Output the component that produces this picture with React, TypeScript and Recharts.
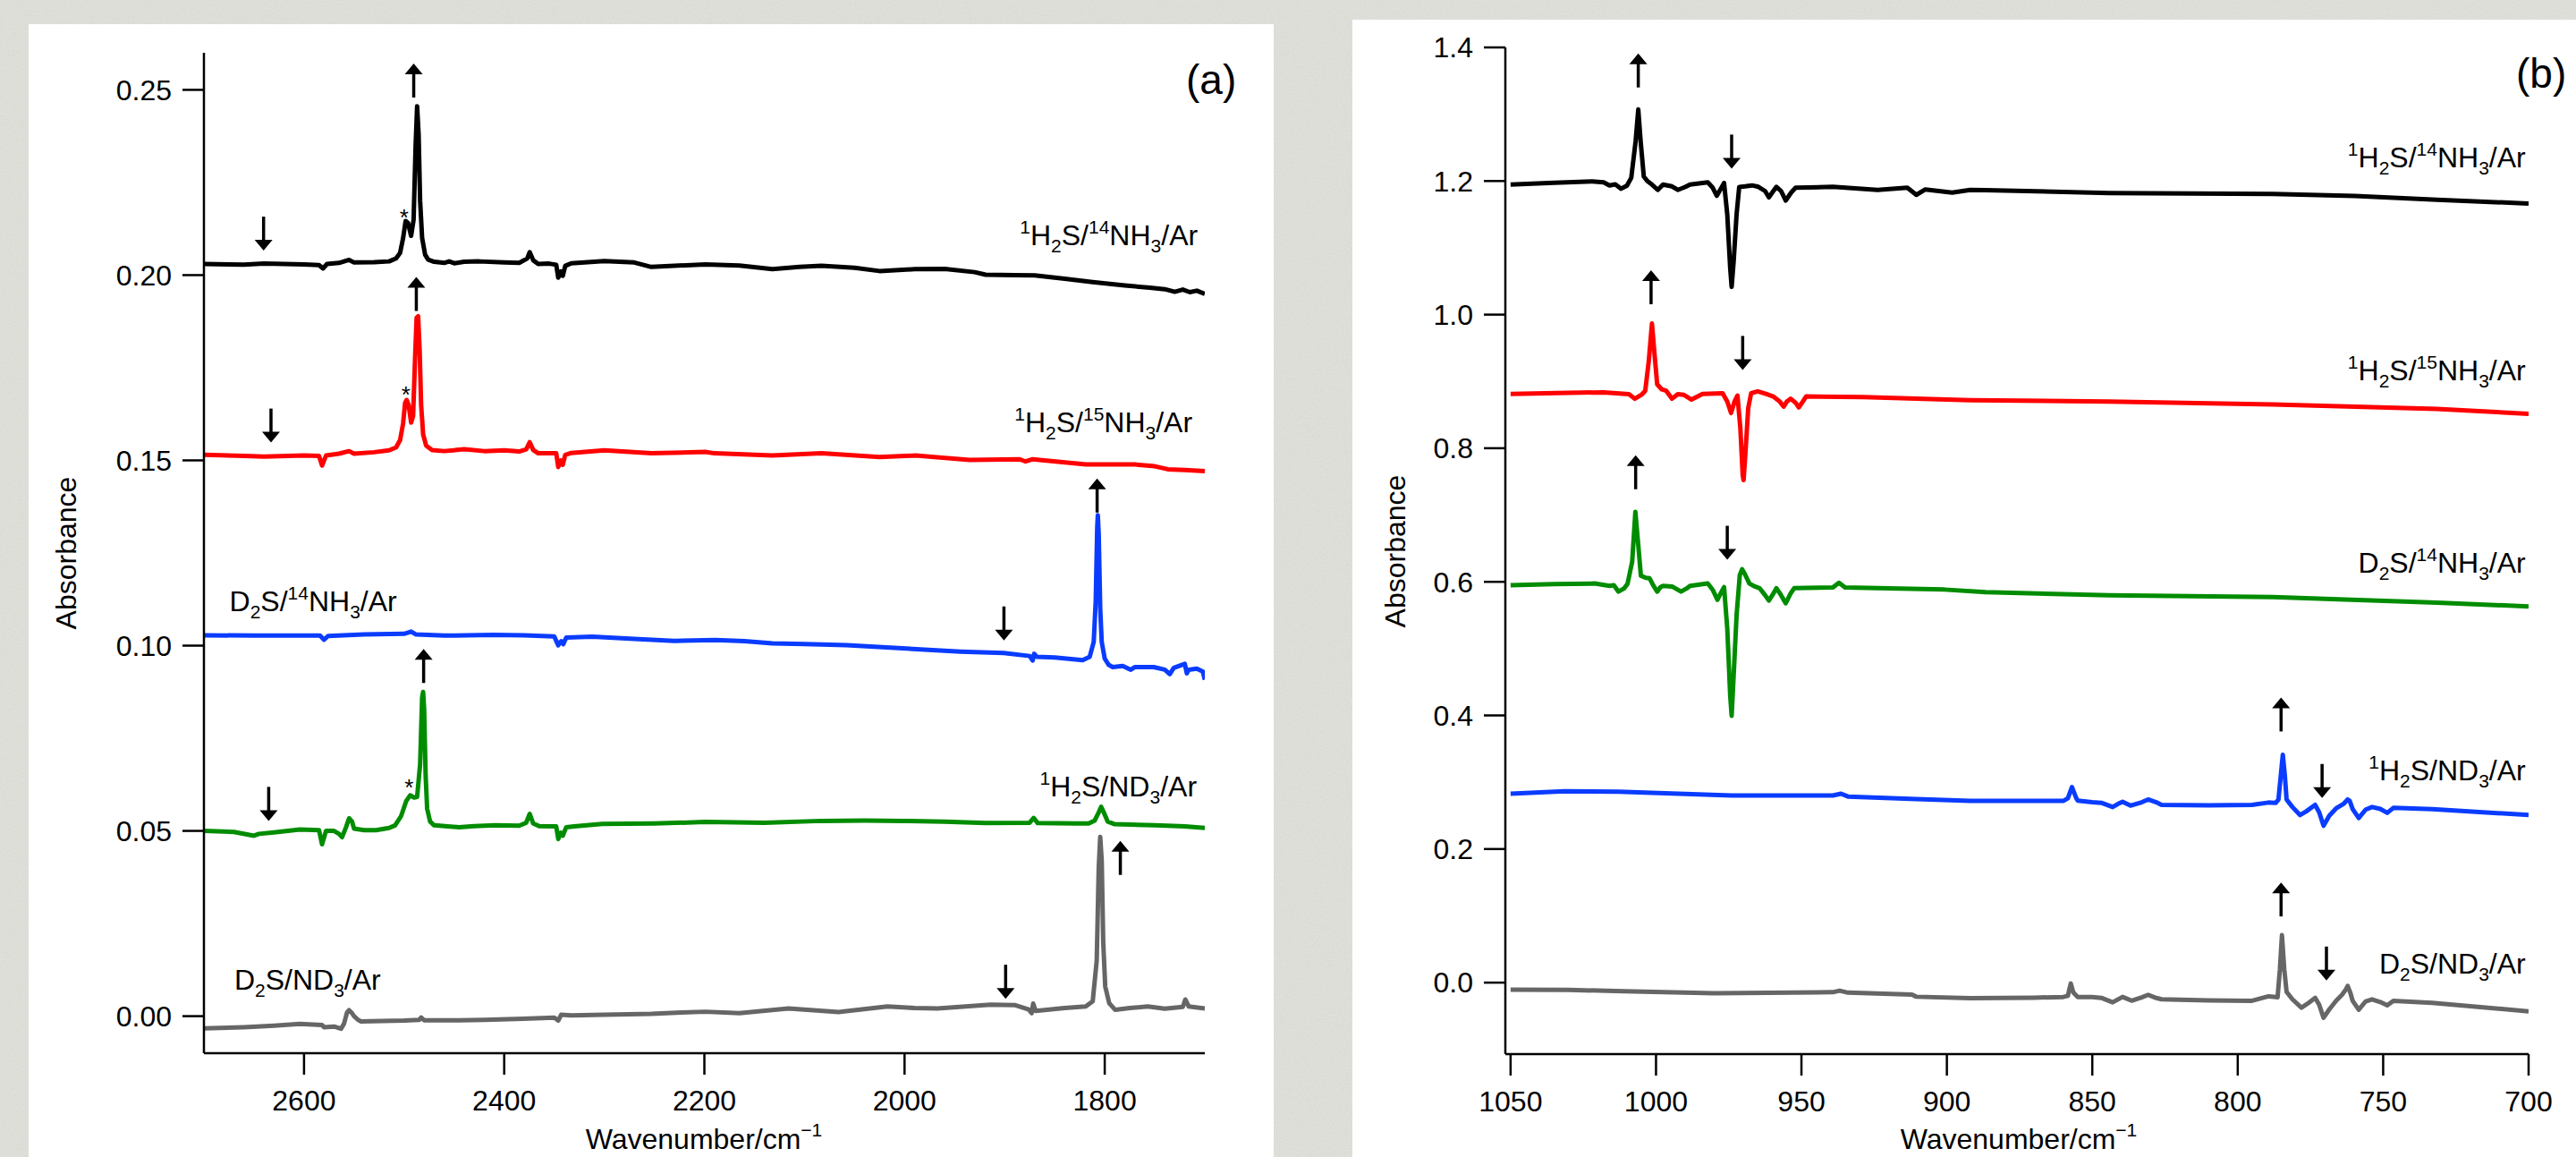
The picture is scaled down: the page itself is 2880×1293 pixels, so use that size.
import React from "react";
import { LineChart, Line, XAxis, YAxis, ReferenceDot } from "recharts";

const FONT = '"Liberation Sans", Arial, Helvetica, sans-serif';

// ---- panel (a): 1700-2700 cm-1 region ----
const aXTicks = [2600, 2400, 2200, 2000, 1800];
const aYTicks = [0, 0.05, 0.1, 0.15, 0.2, 0.25];

const aH2S14NH3: [number, number][] = [
  [2700, 0.203], [2660, 0.2028], [2640, 0.2031], [2600, 0.2029], [2585, 0.2027], [2581, 0.2018],
  [2577, 0.203], [2565, 0.2033], [2555, 0.2041], [2550, 0.2034], [2530, 0.2035], [2515, 0.2037],
  [2508, 0.2045], [2504, 0.206], [2501, 0.21], [2498.5, 0.2146], [2496, 0.214], [2493, 0.2106],
  [2490.5, 0.215], [2488.5, 0.235], [2487, 0.2456], [2485.5, 0.238], [2484, 0.22], [2482, 0.21],
  [2479, 0.2055], [2476, 0.2042], [2470, 0.2036], [2460, 0.2033], [2455, 0.2037], [2450, 0.2032],
  [2440, 0.2036], [2425, 0.2037], [2400, 0.2034], [2385, 0.2033], [2377, 0.2045], [2374.5, 0.2062],
  [2371, 0.204], [2366, 0.203], [2355, 0.2031], [2348, 0.2028], [2346, 0.1993], [2343.5, 0.201],
  [2341.5, 0.1998], [2339, 0.2025], [2333, 0.2032], [2300, 0.2038], [2270, 0.2034], [2253, 0.2022],
  [2230, 0.2025], [2199, 0.2029], [2165, 0.2026], [2132, 0.2016], [2105, 0.2022], [2083, 0.2025],
  [2050, 0.202], [2025, 0.2011], [1990, 0.2016], [1960, 0.2017], [1930, 0.2008], [1919, 0.2001],
  [1890, 0.2], [1870, 0.1999], [1840, 0.199], [1812, 0.1981], [1780, 0.1972], [1755, 0.1966],
  [1740, 0.1962], [1730, 0.1955], [1722, 0.1961], [1715, 0.1954], [1708, 0.1958], [1700, 0.1949],
];

const aH2S15NH3: [number, number][] = [
  [2700, 0.1515], [2660, 0.1512], [2640, 0.151], [2600, 0.1513], [2585, 0.1512], [2582, 0.1486],
  [2578, 0.1513], [2565, 0.1518], [2555, 0.1525], [2550, 0.1518], [2530, 0.1522], [2515, 0.1527],
  [2508, 0.1535], [2504, 0.1555], [2501, 0.16], [2499, 0.1655], [2497.5, 0.1663], [2495.5, 0.165],
  [2493, 0.1602], [2491, 0.162], [2489, 0.178], [2487.5, 0.1885], [2486, 0.1889], [2484.5, 0.18],
  [2483, 0.165], [2481, 0.157], [2478, 0.154], [2472, 0.1528], [2460, 0.1525], [2440, 0.153],
  [2420, 0.1525], [2400, 0.1527], [2385, 0.1524], [2378, 0.153], [2374.5, 0.1549], [2371, 0.1528],
  [2366, 0.1519], [2348, 0.1519], [2346, 0.1482], [2343.5, 0.15], [2341.5, 0.1488], [2339, 0.1515],
  [2333, 0.152], [2300, 0.1527], [2253, 0.1519], [2199, 0.1523], [2190, 0.1519], [2132, 0.1513],
  [2083, 0.1519], [2025, 0.1509], [1989, 0.1513], [1935, 0.1501], [1885, 0.1503], [1879, 0.1497],
  [1872, 0.1503], [1819, 0.1489], [1770, 0.1489], [1750, 0.1484], [1737, 0.1476], [1720, 0.1474],
  [1700, 0.1471],
];

const aD2S14NH3: [number, number][] = [
  [2700, 0.1028], [2650, 0.1027], [2600, 0.1027], [2584, 0.1027], [2580, 0.1016], [2576, 0.1026],
  [2540, 0.103], [2500, 0.1032], [2493, 0.1038], [2488, 0.103], [2460, 0.1027], [2411, 0.1029],
  [2380, 0.1028], [2350, 0.1025], [2346, 0.1001], [2343, 0.1012], [2341, 0.1004], [2338, 0.1022],
  [2312, 0.1024], [2270, 0.1018], [2230, 0.1013], [2189, 0.1015], [2160, 0.1012], [2132, 0.1006],
  [2100, 0.1004], [2058, 0.1001], [2010, 0.0994], [1944, 0.0984], [1901, 0.098], [1875, 0.0972],
  [1872, 0.096], [1870.5, 0.0978], [1868, 0.097], [1850, 0.0968], [1822, 0.0961], [1815, 0.097],
  [1811, 0.101], [1809, 0.112], [1807.5, 0.132], [1806.9, 0.1352], [1806, 0.13], [1804.5, 0.11],
  [1803, 0.101], [1800, 0.0965], [1796, 0.0948], [1792, 0.0942], [1782, 0.0945], [1774, 0.0935],
  [1770, 0.0942], [1751, 0.0942], [1740, 0.0935], [1735, 0.0923], [1731, 0.094], [1720, 0.0951],
  [1718, 0.0925], [1716, 0.0935], [1708, 0.0938], [1702, 0.093], [1700, 0.0908],
];

const aH2SND3: [number, number][] = [
  [2700, 0.05], [2670, 0.0497], [2650, 0.0487], [2645, 0.0492], [2630, 0.0496], [2604, 0.0504],
  [2585, 0.0502], [2582, 0.0464], [2578, 0.05], [2570, 0.05], [2565, 0.0492], [2562, 0.0483],
  [2558, 0.051], [2555, 0.0534], [2552, 0.0525], [2550, 0.0506], [2540, 0.0502], [2528, 0.0502],
  [2515, 0.0508], [2509, 0.0515], [2503, 0.054], [2498, 0.058], [2494, 0.0596], [2490, 0.059],
  [2487, 0.0592], [2484, 0.068], [2482, 0.086], [2481, 0.0875], [2480, 0.083], [2478.5, 0.065],
  [2477, 0.056], [2474, 0.0525], [2470, 0.0515], [2445, 0.051], [2430, 0.0513], [2409, 0.0515],
  [2385, 0.0514], [2378, 0.0522], [2374.5, 0.0546], [2371, 0.052], [2365, 0.0513], [2348, 0.0512],
  [2346, 0.0478], [2343.5, 0.0495], [2341.5, 0.0487], [2338, 0.051], [2330, 0.0512], [2302, 0.0519],
  [2250, 0.052], [2199, 0.0524], [2140, 0.0522], [2083, 0.0527], [2040, 0.0528], [2001, 0.0527],
  [1960, 0.0525], [1919, 0.0521], [1875, 0.0522], [1871, 0.0535], [1867, 0.0521], [1830, 0.052],
  [1816, 0.052], [1810, 0.0528], [1806, 0.055], [1803.6, 0.0565], [1801, 0.055], [1797, 0.0525],
  [1790, 0.0518], [1750, 0.0515], [1720, 0.0512], [1700, 0.0508],
];

const aD2SND3: [number, number][] = [
  [2700, -0.0033], [2660, -0.003], [2630, -0.0026], [2604, -0.0021], [2582, -0.0024], [2580, -0.003],
  [2570, -0.0028], [2563, -0.0034], [2560, -0.002], [2557, 0.001], [2555, 0.0016], [2552, 0.0008],
  [2550, 0], [2546, -0.001], [2543, -0.0014], [2500, -0.0012], [2485, -0.001], [2483, -0.0004],
  [2480, -0.0011], [2445, -0.0011], [2420, -0.001], [2381, -0.0007], [2350, -0.0004], [2346, -0.0012],
  [2343, 0.0004], [2333, 0.0002], [2300, 0.0004], [2253, 0.0006], [2223, 0.001], [2199, 0.0012],
  [2165, 0.0008], [2116, 0.0021], [2066, 0.0011], [2017, 0.0026], [1990, 0.0022], [1967, 0.0021],
  [1914, 0.0031], [1890, 0.003], [1876, 0.0018], [1873, 0.0008], [1871.5, 0.0034], [1869, 0.0014],
  [1840, 0.0022], [1819, 0.0026], [1812, 0.004], [1808, 0.015], [1806, 0.04], [1804.5, 0.0484],
  [1803, 0.042], [1801.5, 0.02], [1799.5, 0.008], [1795.5, 0.0035], [1789.5, 0.0017], [1775, 0.0022],
  [1757, 0.0026], [1740, 0.002], [1722, 0.0025], [1719.5, 0.0045], [1716, 0.0026], [1700, 0.0021],
];

// ---- panel (b): 700-1050 cm-1 region ----
const bXTicks = [1050, 1000, 950, 900, 850, 800, 750, 700];
const bYTicks = [0, 0.2, 0.4, 0.6, 0.8, 1.0, 1.2, 1.4];

const bH2S14NH3: [number, number][] = [
  [1050, 1.1948], [1035, 1.1975], [1022, 1.1994], [1018, 1.198], [1016, 1.1934], [1014, 1.195],
  [1012, 1.1885], [1010, 1.193], [1008.5, 1.205], [1007, 1.26], [1006.1, 1.3071], [1005.3, 1.26],
  [1004.2, 1.2068], [1003, 1.2], [1001.7, 1.1958], [999.4, 1.1867], [997.6, 1.1948], [994.5, 1.192],
  [992.5, 1.1867], [990, 1.191], [988.3, 1.1948], [982.2, 1.198], [980.5, 1.19], [979.1, 1.1779],
  [977.5, 1.19], [976.6, 1.197], [975.5, 1.15], [974.5, 1.07], [974, 1.0415], [973.3, 1.08],
  [972.3, 1.15], [971.4, 1.1911], [969.4, 1.192], [967, 1.1935], [964.8, 1.1913], [962.5, 1.185],
  [961.2, 1.1755], [960, 1.183], [958.6, 1.1913], [957, 1.185], [955.4, 1.1708], [953.5, 1.183],
  [952, 1.19], [939.2, 1.1913], [923.8, 1.1867], [913.6, 1.19], [910.5, 1.1793], [907.4, 1.1874],
  [898.2, 1.1827], [892, 1.1867], [886.7, 1.1864], [844.3, 1.1819], [787.9, 1.1808], [759.7, 1.1775],
  [731.5, 1.1719], [700, 1.1664],
];

const bH2S15NH3: [number, number][] = [
  [1050, 0.8813], [1030, 0.883], [1018, 0.8837], [1009.3, 0.881], [1007.3, 0.8741], [1005, 0.88],
  [1003.7, 0.886], [1002.5, 0.93], [1001.4, 0.9866], [1000.5, 0.94], [999.6, 0.8957], [998, 0.888],
  [996.5, 0.886], [994.5, 0.8741], [992.5, 0.881], [990.5, 0.88], [987.8, 0.8728], [984, 0.8813],
  [977.1, 0.8823], [975.5, 0.87], [974.2, 0.8527], [973, 0.87], [972, 0.8789], [971, 0.83],
  [970.2, 0.76], [969.9, 0.7522], [969.3, 0.79], [968.3, 0.86], [967.3, 0.8823], [965, 0.8852],
  [962, 0.881], [959.7, 0.8775], [957.5, 0.87], [956.1, 0.8622], [955, 0.87], [953.7, 0.8741],
  [952, 0.868], [950.9, 0.8612], [949.5, 0.87], [948.4, 0.8775], [928.9, 0.8765], [892, 0.8719],
  [844.3, 0.8698], [787.9, 0.8654], [731.5, 0.8587], [700, 0.8515],
];

const bD2S14NH3: [number, number][] = [
  [1050, 0.5948], [1035, 0.5965], [1021.1, 0.5975], [1016, 0.594], [1014.5, 0.595], [1012.9, 0.5853],
  [1011, 0.59], [1009.8, 0.597], [1008.2, 0.63], [1007.1, 0.7047], [1006, 0.65], [1005.2, 0.6091],
  [1003.5, 0.606], [1002.2, 0.6052], [1001, 0.595], [999.6, 0.5853], [998.5, 0.592], [997.6, 0.594],
  [994.5, 0.593], [991.4, 0.5853], [989.5, 0.59], [988.3, 0.594], [982.2, 0.5975], [980.5, 0.588],
  [978.9, 0.5731], [977.5, 0.585], [976.6, 0.592], [975.5, 0.53], [974.5, 0.43], [974, 0.3995],
  [973.3, 0.46], [972.3, 0.55], [971.2, 0.61], [970.4, 0.6188], [969.5, 0.612], [967.9, 0.5975],
  [966, 0.593], [964.4, 0.5905], [962.5, 0.58], [961.2, 0.5719], [960, 0.58], [958.6, 0.5905],
  [957, 0.58], [955.4, 0.5678], [953.8, 0.582], [952.5, 0.5905], [939.2, 0.5915], [937.1, 0.5986],
  [935, 0.5915], [900.8, 0.5884], [886.7, 0.5844], [844.3, 0.58], [787.9, 0.5773], [731.5, 0.5689],
  [700, 0.5632],
];

const bH2SND3: [number, number][] = [
  [1050, 0.2828], [1031.4, 0.2866], [1012.9, 0.2857], [974, 0.2802], [939.2, 0.2802], [936.4, 0.2828],
  [934, 0.2786], [910.5, 0.2749], [892, 0.2722], [870, 0.272], [860, 0.272], [858.4, 0.276],
  [857, 0.2927], [855.5, 0.276], [855, 0.2723], [850, 0.27], [846.9, 0.2692], [843, 0.2629],
  [841, 0.268], [839.6, 0.2706], [836.9, 0.265], [833, 0.27], [830.8, 0.2742], [828, 0.27],
  [826.2, 0.2661], [810, 0.2655], [795.1, 0.2661], [789.4, 0.2696], [787, 0.269], [786, 0.274],
  [785.2, 0.31], [784.5, 0.3411], [783.8, 0.31], [783.2, 0.2742], [781.2, 0.2629], [778.6, 0.2509],
  [776.5, 0.2562], [773.4, 0.2661], [772, 0.255], [770.5, 0.2348], [768.5, 0.25], [766.2, 0.2608],
  [763.5, 0.268], [762.2, 0.2742], [761.5, 0.272], [760.5, 0.26], [758.4, 0.2464], [756, 0.259],
  [753.8, 0.2629], [751, 0.26], [748.6, 0.2541], [746.5, 0.2616], [733.1, 0.2598], [700, 0.2509],
];

const bD2SND3: [number, number][] = [
  [1050, -0.0107], [1030, -0.011], [1011, -0.0128], [980, -0.016], [939.2, -0.0144], [936.9, -0.012],
  [934, -0.015], [912, -0.018], [910.5, -0.0211], [892, -0.0234], [870, -0.0225], [860, -0.0215],
  [858.4, -0.0197], [857.4, -0.0013], [856.5, -0.015], [855, -0.0215], [850, -0.0215], [846.9, -0.0228],
  [843, -0.0295], [839.6, -0.0214], [836.5, -0.027], [833, -0.022], [830.8, -0.0183], [828, -0.023],
  [826.2, -0.025], [810, -0.0265], [795.1, -0.0272], [789.4, -0.0205], [786.3, -0.022], [785.5, 0.02],
  [784.8, 0.071], [784, 0.02], [783.2, -0.0138], [781.2, -0.025], [778.1, -0.0375], [775.5, -0.03],
  [773.4, -0.0228], [772, -0.033], [770.5, -0.0526], [768.5, -0.04], [766.2, -0.0272], [764.1, -0.018],
  [762.8, -0.01], [762.2, -0.0049], [761.3, -0.015], [760.5, -0.027], [758.4, -0.0406], [756, -0.028],
  [753.8, -0.025], [751, -0.029], [748.6, -0.0339], [746.5, -0.0272], [733.1, -0.0304], [700, -0.0429],
];

// annotations: [wavenumber, absorbance of arrow tip, direction]
const aArrows: [number, number, string][] = [
  [2490.4, 0.2571, "up"], [2640.4, 0.2066, "down"],
  [2487.8, 0.1995, "up"], [2633, 0.1548, "down"],
  [1807.6, 0.1451, "up"], [1900.7, 0.1014, "down"],
  [2480.5, 0.0991, "up"], [2635.3, 0.0527, "down"],
  [1784.4, 0.0473, "up"], [1899, 0.0047, "down"],
];
const bArrows: [number, number, string][] = [
  [1006.1, 1.391, "up"], [974, 1.2186, "down"],
  [1001.7, 1.0664, "up"], [970.2, 0.9172, "down"],
  [1007, 0.7895, "up"], [975.5, 0.633, "down"],
  [785.1, 0.4269, "up"], [771, 0.2764, "down"],
  [785.1, 0.15, "up"], [769.5, 0.0031, "down"],
];
const aStars: [number, number][] = [[2499.9, 0.217], [2498.1, 0.1692], [2495.1, 0.0631]];

// label text: ^ superscript, _ subscript, {} groups
const aLabels: [string, number, number, string][] = [
  ["^1H_2S/^{14}NH_3/Ar", 1707, 0.2081, "end"],
  ["^1H_2S/^{15}NH_3/Ar", 1712.4, 0.1576, "end"],
  ["D_2S/^{14}NH_3/Ar", 2674.5, 0.1094, "start"],
  ["^1H_2S/ND_3/Ar", 1708, 0.0594, "end"],
  ["D_2S/ND_3/Ar", 2669.7, 0.0072, "start"],
];
const bLabels: [string, number, number, string][] = [
  ["^1H_2S/^{14}NH_3/Ar", 701, 1.2207, "end"],
  ["^1H_2S/^{15}NH_3/Ar", 701, 0.9014, "end"],
  ["D_2S/^{14}NH_3/Ar", 701, 0.6134, "end"],
  ["^1H_2S/ND_3/Ar", 701, 0.3027, "end"],
  ["D_2S/ND_3/Ar", 701, 0.0134, "end"],
];

const COLORS = ["#000000", "#ff0000", "#0a3cff", "#008c00", "#666666"];
const aSeries = [aH2S14NH3, aH2S15NH3, aD2S14NH3, aH2SND3, aD2SND3];
// panel b stacks the series in a different order (green third, blue fourth)
const bSeries = [bH2S14NH3, bH2S15NH3, bD2S14NH3, bH2SND3, bD2SND3];
const bColors = ["#000000", "#ff0000", "#008c00", "#0a3cff", "#666666"];

const toRows = (pts: [number, number][]) => pts.map(([x, y]) => ({ x, y }));

function parseChem(s: string) {
  const out: { t: string; k: string }[] = [];
  let i = 0;
  while (i < s.length) {
    const c = s[i];
    if (c === "^" || c === "_") {
      const k = c === "^" ? "sup" : "sub";
      i++;
      let t = "";
      if (s[i] === "{") {
        i++;
        while (s[i] !== "}") t += s[i++];
        i++;
      } else t = s[i++];
      out.push({ t, k });
    } else {
      let t = "";
      while (i < s.length && s[i] !== "^" && s[i] !== "_") t += s[i++];
      out.push({ t, k: "" });
    }
  }
  return out;
}

function ChemText({ x, y, text, anchor }: any) {
  const segs = parseChem(text);
  let shift = 0;
  return (
    <text x={x} y={y} textAnchor={anchor} fontSize={32} fontFamily={FONT} fill="#000">
      {segs.map((s, i) => {
        const target = s.k === "sup" ? -13 : s.k === "sub" ? 8 : 0;
        const dy = target - shift;
        shift = target;
        return (
          <tspan key={i} dy={dy} fontSize={s.k ? 21 : 32}>
            {s.t}
          </tspan>
        );
      })}
    </text>
  );
}

function Arrow({ cx, cy, dir }: any) {
  const len = 38;
  const hw = 10;
  const hh = 12;
  const s = dir === "up" ? 1 : -1;
  return (
    <g>
      <line x1={cx} y1={cy + s * (hh - 2)} x2={cx} y2={cy + s * len} stroke="#000" strokeWidth={3.5} />
      <path d={`M${cx},${cy}L${cx - hw},${cy + s * hh}L${cx + hw},${cy + s * hh}Z`} fill="#000" />
    </g>
  );
}

const tickStyle = { fontSize: 32, fill: "#000", fontFamily: FONT };
const axisStroke = { stroke: "#000", strokeWidth: 2.5 };

function Panel({ w, h, margin, yWidth, xHeight, xDomain, yDomain, xTicks, yTicks, yDigits, series, colors, arrows, labels, stars }: any) {
  return (
    <LineChart width={w} height={h} margin={margin}>
      <XAxis
        type="number"
        dataKey="x"
        domain={xDomain}
        reversed
        allowDataOverflow
        ticks={xTicks}
        interval={0}
        height={xHeight}
        tickSize={24}
        tickMargin={17}
        tick={tickStyle}
        axisLine={axisStroke}
        tickLine={axisStroke}
      />
      <YAxis
        type="number"
        domain={yDomain}
        allowDataOverflow
        ticks={yTicks}
        interval={0}
        width={yWidth}
        tickSize={24}
        tickMargin={12}
        tick={tickStyle}
        axisLine={axisStroke}
        tickLine={axisStroke}
        tickFormatter={(v: number) => v.toFixed(yDigits)}
      />
      {series.map((pts: [number, number][], i: number) => (
        <Line
          key={i}
          data={toRows(pts)}
          dataKey="y"
          type="linear"
          dot={false}
          activeDot={false}
          stroke={colors[i]}
          strokeWidth={5}
          strokeLinejoin="round"
          isAnimationActive={false}
        />
      ))}
      {arrows.map(([x, y, dir]: any, i: number) => (
        <ReferenceDot key={"ar" + i} x={x} y={y} r={0} ifOverflow="visible" shape={(p: any) => <Arrow cx={p.cx} cy={p.cy} dir={dir} />} />
      ))}
      {stars.map(([x, y]: any, i: number) => (
        <ReferenceDot
          key={"st" + i}
          x={x}
          y={y}
          r={0}
          ifOverflow="visible"
          shape={(p: any) => (
            <text x={p.cx} y={p.cy + 15} textAnchor="middle" fontSize={26} fontFamily={FONT} fill="#000">
              *
            </text>
          )}
        />
      ))}
      {labels.map(([t, x, y, anchor]: any, i: number) => (
        <ReferenceDot key={"lb" + i} x={x} y={y} r={0} ifOverflow="visible" shape={(p: any) => <ChemText x={p.cx} y={p.cy} text={t} anchor={anchor} />} />
      ))}
    </LineChart>
  );
}

export default function App() {
  return (
    <div style={{ position: "fixed", left: 0, top: 0, width: 2880, height: 1293, overflow: "hidden", background: "#e2e2dc" }}>
      <svg width={2880} height={1293} style={{ position: "absolute", left: 0, top: 0 }}>
        <filter id="paper">
          <feTurbulence type="fractalNoise" baseFrequency="0.9" numOctaves={2} seed={4} />
          <feColorMatrix type="saturate" values="0" />
        </filter>
        <rect width={2880} height={1293} filter="url(#paper)" opacity={0.22} />
      </svg>

      <div style={{ position: "absolute", left: 32, top: 27, width: 1392, height: 1266, background: "#fff", overflow: "hidden" }}>
        <Panel
          w={1392}
          h={1300}
          margin={{ top: 32, right: 77, bottom: 0, left: 0 }}
          yWidth={196}
          xHeight={150}
          xDomain={[1700, 2700]}
          yDomain={[-0.01, 0.26]}
          xTicks={aXTicks}
          yTicks={aYTicks}
          yDigits={2}
          series={aSeries}
          colors={COLORS}
          arrows={aArrows}
          labels={aLabels}
          stars={aStars}
        />
      </div>

      <div style={{ position: "absolute", left: 1512, top: 22, width: 1368, height: 1271, background: "#fff", overflow: "hidden" }}>
        <Panel
          w={1368}
          h={1300}
          margin={{ top: 31, right: 53, bottom: 0, left: 0 }}
          yWidth={171}
          xHeight={144}
          xDomain={[700, 1051.8]}
          yDomain={[-0.107, 1.4]}
          xTicks={bXTicks}
          yTicks={bYTicks}
          yDigits={1}
          series={bSeries}
          colors={bColors}
          arrows={bArrows}
          labels={bLabels}
          stars={[]}
        />
      </div>

      <svg width={2880} height={1293} style={{ position: "absolute", left: 0, top: 0, pointerEvents: "none" }} fontFamily={FONT} fill="#000">
        <text x={1326} y={105} fontSize={46}>(a)</text>
        <text x={2813} y={98} fontSize={46}>(b)</text>
        <text transform="translate(85,618) rotate(-90)" textAnchor="middle" fontSize={32}>Absorbance</text>
        <text transform="translate(1571,616) rotate(-90)" textAnchor="middle" fontSize={32}>Absorbance</text>
        <text x={787} y={1284} textAnchor="middle" fontSize={32}>
          Wavenumber/cm<tspan dy={-14} fontSize={21}>−1</tspan>
        </text>
        <text x={2257} y={1284} textAnchor="middle" fontSize={32}>
          Wavenumber/cm<tspan dy={-14} fontSize={21}>−1</tspan>
        </text>
      </svg>
    </div>
  );
}
